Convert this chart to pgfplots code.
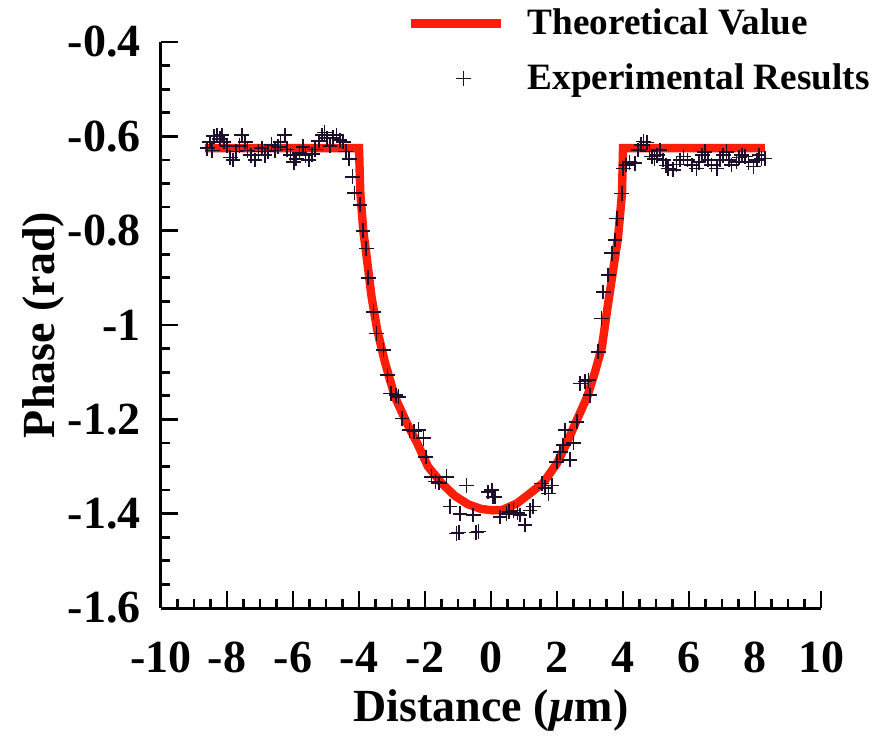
\documentclass[border=0pt]{standalone}
\usepackage{pgfplots}
\pgfplotsset{compat=1.18}
\usepackage{fontspec}
\setmainfont{Liberation Serif}
\definecolor{theo}{RGB}{255,30,10}
\definecolor{expc}{RGB}{30,15,45}
\pgfplotsset{
  theolegend/.style={legend image code/.code={\draw[##1] (0pt,0pt) -- (45pt,0pt);}},
  explegend/.style={legend image code/.code={\draw[##1] plot coordinates {(26pt,0pt)};}},
}
\begin{document}
\begin{tikzpicture}
\begin{axis}[
 scale only axis, width=330pt, height=283pt,
 xmin=-10, xmax=10, ymin=-1.6, ymax=-0.4,
 axis lines*=left,
 axis line style={line width=1.5pt},
 every tick/.style={black, line width=1.4pt},
 tick align=inside,
 major tick length=8.5pt, minor tick length=4.5pt,
 xtick={-10,-8,-6,-4,-2,0,2,4,6,8,10},
 ytick={-1.6,-1.4,-1.2,-1,-0.8,-0.6,-0.4},
 minor x tick num=3, minor y tick num=3,
 /pgf/number format/assume math mode=true,
 tick label style={font=\fontsize{23}{23}\selectfont\bfseries},
 xticklabel style={anchor=north, inner sep=0pt, yshift=-17pt},
 yticklabel style={anchor=east, inner sep=0pt, xshift=-10pt},
 xlabel={Distance ({\itshape μ}m)}, ylabel={Phase (rad)},
 label style={font=\fontsize{23}{23}\selectfont\bfseries},
 xlabel style={at={(rel axis cs:0.5,0)}, anchor=center, yshift=-51pt},
 ylabel style={at={(rel axis cs:0,0.5)}, anchor=center, yshift=59pt},
 legend style={at={(rel axis cs:0.373,1.058)}, anchor=north west, draw=none, fill=none,
   inner sep=0pt, outer sep=0pt, font=\fontsize{18.6}{18.6}\selectfont\bfseries, row sep=13pt,
   nodes={inner sep=0pt}, /tikz/every odd column/.append style={column sep=11pt}},
 legend cell align=left,
]
\addplot[theo, line width=4.2pt, theolegend] coordinates {
(-8.67,-0.625) (-4.0,-0.625) (-3.96,-0.72) (-3.87,-0.80) (-3.76,-0.86) (-3.62,-0.94)
(-3.45,-1.01) (-3.21,-1.08) (-2.91,-1.153) (-2.55,-1.208) (-2.24,-1.25) (-1.91,-1.30)
(-1.50,-1.335) (-1.10,-1.362) (-0.70,-1.380) (-0.30,-1.390) (0.06,-1.393) (0.35,-1.392) (0.79,-1.378)
(1.18,-1.357) (1.58,-1.335) (2.0,-1.293) (2.30,-1.25) (2.61,-1.20) (2.91,-1.153)
(3.15,-1.10) (3.36,-1.047) (3.55,-0.954) (3.70,-0.884) (3.85,-0.814) (3.97,-0.72)
(4.0,-0.625) (8.3,-0.625)
};
\addlegendentry{Theoretical Value}
\addplot[only marks, mark=+, mark size=3.7pt, color=expc, mark options={line width=0.85pt}, explegend] coordinates {
(-8.60,-0.625) (-8.52,-0.612) (-8.45,-0.630) (-8.40,-0.600) (-8.30,-0.598) (-8.22,-0.605)
(-8.15,-0.597) (-8.10,-0.612) (-8.00,-0.620) (-7.90,-0.645) (-7.82,-0.650) (-7.72,-0.632)
(-7.62,-0.620) (-7.55,-0.597) (-7.45,-0.612) (-7.38,-0.630) (-7.28,-0.640) (-7.15,-0.650)
(-7.05,-0.632) (-6.95,-0.625) (-6.85,-0.640) (-6.75,-0.632) (-6.65,-0.618) (-6.55,-0.630)
(-6.45,-0.622) (-6.38,-0.612) (-6.25,-0.597) (-6.18,-0.628) (-6.08,-0.640) (-5.98,-0.655)
(-5.90,-0.648) (-5.80,-0.635) (-5.70,-0.622) (-5.62,-0.640) (-5.52,-0.650) (-5.42,-0.638)
(-5.33,-0.628) (-5.22,-0.610) (-5.12,-0.597) (-5.05,-0.592) (-4.97,-0.604) (-4.88,-0.620)
(-4.78,-0.603) (-4.68,-0.597) (-4.58,-0.608) (-4.48,-0.612) (-4.40,-0.632) (-4.30,-0.648)
(-4.20,-0.686) (-4.14,-0.720) (-3.97,-0.745) (-3.88,-0.800) (-3.78,-0.838) (-3.72,-0.900)
(-3.56,-0.972) (-3.47,-1.018) (-3.26,-1.053) (-3.14,-1.106) (-3.04,-1.145) (-2.88,-1.149)
(-2.80,-1.152) (-2.70,-1.198) (-2.47,-1.223) (-2.33,-1.226) (-2.20,-1.222) (-2.05,-1.240)
(-1.98,-1.280) (-1.80,-1.322) (-1.68,-1.332) (-1.58,-1.335) (-1.35,-1.322) (-1.24,-1.385)
(-1.05,-1.442) (-0.98,-1.440) (-0.94,-1.400) (-0.74,-1.340) (-0.54,-1.403) (-0.45,-1.440)
(-0.38,-1.438) (-0.09,-1.354) (0.02,-1.350) (0.07,-1.364) (0.12,-1.364) (0.27,-1.407)
(0.47,-1.400) (0.55,-1.396) (0.68,-1.393) (0.80,-1.398) (0.88,-1.403) (1.03,-1.424)
(1.18,-1.393) (1.28,-1.385) (1.54,-1.336) (1.64,-1.345) (1.74,-1.357) (1.84,-1.340)
(1.99,-1.290) (2.10,-1.270) (2.19,-1.255) (2.25,-1.223) (2.39,-1.286) (2.50,-1.250)
(2.60,-1.205) (2.70,-1.124) (2.85,-1.120) (2.95,-1.117) (3.00,-1.149) (3.25,-1.057)
(3.35,-0.986) (3.40,-0.930) (3.55,-0.894) (3.66,-0.848) (3.76,-0.820) (3.81,-0.774)
(3.96,-0.721) (4.01,-0.668) (4.10,-0.661) (4.20,-0.655) (4.36,-0.657) (4.46,-0.629)
(4.55,-0.618) (4.62,-0.611) (4.72,-0.613) (4.80,-0.632) (4.87,-0.643) (4.95,-0.648)
(5.04,-0.640) (5.12,-0.629) (5.22,-0.650) (5.30,-0.662) (5.37,-0.668) (5.52,-0.671)
(5.62,-0.660) (5.73,-0.650) (5.83,-0.643) (5.95,-0.650) (6.08,-0.661) (6.23,-0.668)
(6.30,-0.655) (6.40,-0.640) (6.48,-0.633) (6.58,-0.650) (6.68,-0.661) (6.84,-0.668)
(6.94,-0.650) (7.04,-0.640) (7.14,-0.633) (7.22,-0.650) (7.29,-0.661) (7.44,-0.654)
(7.52,-0.645) (7.60,-0.640) (7.70,-0.643) (7.80,-0.655) (7.95,-0.664) (8.05,-0.650)
(8.12,-0.640) (8.20,-0.647) (8.30,-0.647)
};
\addlegendentry{Experimental Results}
\end{axis}
\path ([xshift=-80.5pt,yshift=-63pt]current axis.south west) rectangle ([xshift=27pt,yshift=21pt]current axis.north east);
\end{tikzpicture}
\end{document}
